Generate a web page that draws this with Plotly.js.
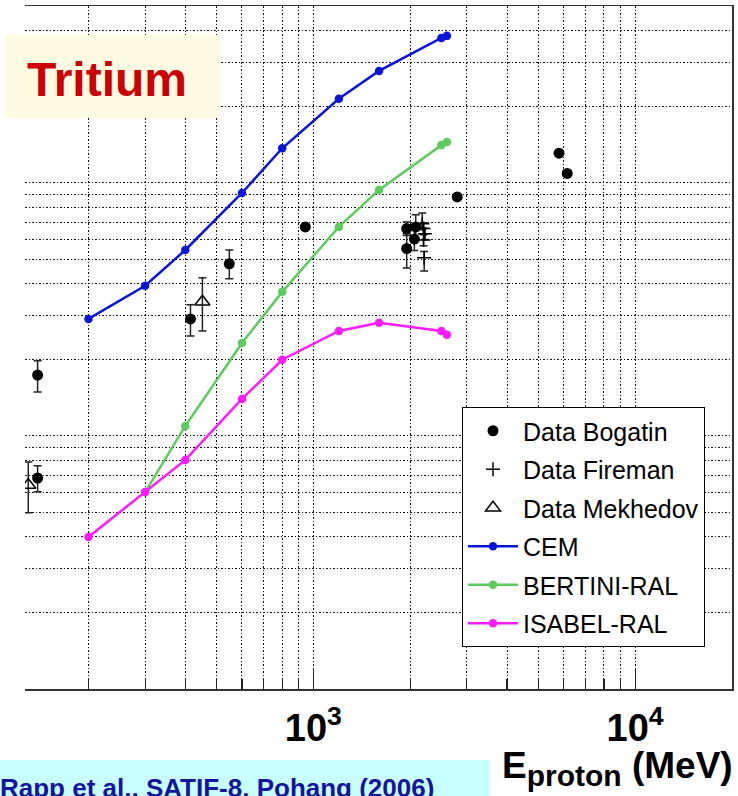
<!DOCTYPE html>
<html><head><meta charset="utf-8">
<script src="https://cdn.plot.ly/plotly-3.0.1.min.js"></script>
<style>html,body{margin:0;padding:0;background:#fff;overflow:hidden}#chart{width:738px;height:796px}</style>
</head><body><div id="chart"></div>
<script>
// Model calculations (proton energy in MeV)
const E_model = [200, 300, 400, 600, 800, 1200, 1600, 2500, 2600];
const CEM = [29.0, 39.2, 54.3, 91.2, 137, 215, 277, 374, 381];
const E_bertini = [300, 400, 600, 800, 1200, 1600, 2500, 2600];
const BERTINI = [6.0, 10.95, 23.3, 37.1, 67.0, 93.8, 141, 145];
const ISABEL = [3.99, 6.0, 8.04, 14.0, 20.0, 26.0, 28.0, 26.0, 25.1];

// Experimental data
const E_bogatin = [139, 139, 415, 548, 944, 1950, 2080, 2060, 1950, 2800, 5800, 6150];
const Y_bogatin = [17.4, 6.82, 29.0, 47.9, 67, 66, 67, 60, 55, 88, 131, 109];
const errUp_bogatin = [2.4, 0.8, 4.0, 6.4, 0, 4, 7.8, 6, 8, 0, 0, 0];
const errDn_bogatin = [2.5, 0.8, 4.2, 6.1, 0, 4, 7, 6, 8.9, 0, 0, 0];

const E_fireman = [2180, 2200, 2220, 2200, 2210];
const Y_fireman = [69, 66, 63, 59.5, 50.6];
const errUp_fireman = [7, 3.5, 3.2, 3, 3];
const errDn_fireman = [3.5, 3.5, 3.2, 3, 5.7];

const E_mekhedov = [130, 452];
const Y_mekhedov = [6.4, 33.9];
const errUp_mekhedov = [1.49, 8.3];
const errDn_mekhedov = [1.43, 7.9];

const xTickVals = [1000, 10000];
const xTickText = ['10<sup>3</sup>', '10<sup>4</sup>'];

const FONT = 'Liberation Sans, Arial, Helvetica, sans-serif';
const GRID = '#111';
const DOTS = '1.5px,2px';
const errStyle = (up, dn) => ({type: 'data', symmetric: false, array: up, arrayminus: dn,
  color: '#222', thickness: 1.5, width: 4});

const traces = [
  {name: 'Data Bogatin', legendgroup: 'a', x: E_bogatin, y: Y_bogatin, mode: 'markers',
   marker: {symbol: 'circle', size: 11, color: '#000'}, error_y: errStyle(errUp_bogatin, errDn_bogatin)},
  {name: 'Data Fireman', legendgroup: 'b', x: E_fireman, y: Y_fireman, mode: 'markers',
   marker: {symbol: 'cross-thin', size: 10, color: '#000', line: {color: '#000', width: 1.5}},
   error_y: errStyle(errUp_fireman, errDn_fireman)},
  {name: 'Data Mekhedov', legendgroup: 'c', x: E_mekhedov, y: Y_mekhedov, mode: 'markers',
   marker: {symbol: 'triangle-up-open', size: 13, color: '#000', line: {color: '#000', width: 1.5}},
   error_y: errStyle(errUp_mekhedov, errDn_mekhedov)},
  {name: 'CEM', legendgroup: 'd', x: E_model, y: CEM, mode: 'lines+markers',
   line: {color: '#0a14d8', width: 2.5}, marker: {color: '#0a14d8', size: 8.5}},
  {name: 'BERTINI-RAL', legendgroup: 'e', x: E_bertini, y: BERTINI, mode: 'lines+markers',
   line: {color: '#5ccc5c', width: 2.5}, marker: {color: '#5ccc5c', size: 8.5}},
  {name: 'ISABEL-RAL', legendgroup: 'f', x: E_model, y: ISABEL, mode: 'lines+markers',
   line: {color: '#ff1aff', width: 2.5}, marker: {color: '#ff1aff', size: 8.5}}
];

const px2x = p => (p - 25) / 707;
const px2y = p => (689 - p) / 683;

const layout = {
  width: 738, height: 796,
  margin: {l: 25, r: 6, t: 6, b: 107},
  paper_bgcolor: '#fff', plot_bgcolor: '#fff',
  font: {family: FONT, color: '#000'},
  showlegend: true,
  xaxis: {
    type: 'log', range: [Math.log10(127), Math.log10(20000)],
    tickmode: 'array', tickvals: xTickVals, ticktext: xTickText,
    ticks: 'inside', ticklen: 20, tickwidth: 1.2, tickcolor: '#222',
    tickfont: {size: 38, weight: 'bold', family: FONT, color: '#000'},
    ticklabelstandoff: 5,
    showgrid: true, gridcolor: GRID, griddash: DOTS, gridwidth: 1,
    minor: {dtick: 'D1', ticks: 'inside', ticklen: 10, tickwidth: 1.2, tickcolor: '#222',
            showgrid: true, gridcolor: GRID, griddash: DOTS, gridwidth: 1},
    showline: true, linecolor: '#333', linewidth: 1.5, mirror: true, zeroline: false
  },
  yaxis: {
    type: 'log', range: [0, Math.log10(500)], dtick: 'D1',
    showticklabels: false, ticks: '',
    showgrid: true, gridcolor: GRID, griddash: DOTS, gridwidth: 1,
    side: 'right', showline: true, linecolor: '#333', linewidth: 1.5, zeroline: false
  },
  legend: {
    x: px2x(462), y: px2y(407), xanchor: 'left', yanchor: 'top',
    bgcolor: '#fff', bordercolor: '#000', borderwidth: 1,
    font: {size: 25, family: FONT, color: '#000'},
    traceorder: 'grouped', tracegroupgap: 3, itemwidth: 50
  },
  shapes: [
    {type: 'rect', xref: 'paper', yref: 'paper', x0: px2x(5), x1: px2x(220), y0: px2y(118), y1: px2y(35),
     fillcolor: '#fdfbe2', line: {width: 0}, layer: 'above'},
    {type: 'rect', xref: 'paper', yref: 'paper', x0: px2x(-5), x1: px2x(490), y0: px2y(810), y1: px2y(760),
     fillcolor: '#c8ffff', line: {width: 0}, layer: 'above'}
  ],
  annotations: [
    {text: '<b>Tritium</b>', xref: 'paper', yref: 'paper', x: px2x(107), y: px2y(80),
     xanchor: 'center', yanchor: 'middle', showarrow: false,
     font: {size: 48, color: '#cc0000', family: FONT}},
    {text: '<b>Rapp et al., SATIF-8, Pohang (2006)</b>', xref: 'paper', yref: 'paper',
     x: px2x(-2), y: px2y(771), xanchor: 'left', yanchor: 'top', showarrow: false,
     font: {size: 26, color: '#1414a0', family: FONT}},
    {text: '<b>E<sub><span style="font-size:30px">proton</span></sub> (MeV)</b>', xref: 'paper', yref: 'paper',
     x: px2x(735), y: px2y(743), xanchor: 'right', yanchor: 'top', showarrow: false,
     font: {size: 37, color: '#000', family: FONT}}
  ]
};

Plotly.newPlot('chart', traces, layout, {displayModeBar: false, staticPlot: true});
</script>
</body></html>
